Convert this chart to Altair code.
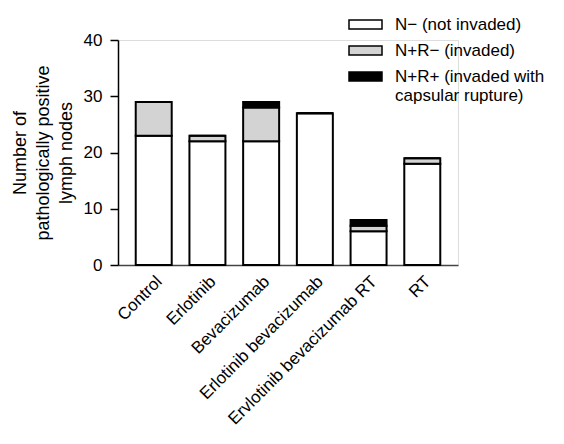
import altair as alt
import pandas as pd

groups = ["Control", "Erlotinib", "Bevacizumab", "Erlotinib bevacizumab",
          "Ervlotinib  bevacizumab RT", "RT"]
categories = ["N\u2212 (not invaded)", "N+R\u2212 (invaded)",
              "N+R+ (invaded with capsular rupture)"]
n_minus = [23, 22, 22, 27, 6, 18]
n_plus_r_minus = [6, 1, 6, 0, 1, 1]
n_plus_r_plus = [0, 0, 1, 0, 1, 0]
colors = ["#ffffff", "#d3d3d3", "#000000"]

rows = []
for i, g in enumerate(groups):
    for k, (cat, vals) in enumerate(zip(categories, [n_minus, n_plus_r_minus, n_plus_r_plus])):
        rows.append({"group": g, "category": cat, "value": vals[i], "order": k})
df = pd.DataFrame(rows)

FONT = "Liberation Sans"

chart = alt.Chart(df).mark_bar(stroke="black", strokeWidth=2).encode(
    x=alt.X("group:N", sort=groups, title=None,
            scale=alt.Scale(paddingInner=0.33, paddingOuter=0.33),
            axis=alt.Axis(labelAngle=-45, ticks=False, domainColor="#444",
                          domainWidth=1.5, labelFontSize=17, labelFont=FONT,
                          labelColor="black", labelPadding=8, labelLimit=500)),
    y=alt.Y("value:Q", stack="zero",
            scale=alt.Scale(domain=[0, 40], nice=False),
            axis=alt.Axis(values=[0, 10, 20, 30, 40], grid=False,
                          title=["Number of", "pathologically positive", "lymph nodes"],
                          titleFont=FONT, titleFontSize=18, titleFontWeight="normal",
                          titleColor="black", titlePadding=8, titleLineHeight=23,
                          labelFont=FONT, labelFontSize=17, labelColor="black",
                          domainColor="black", domainWidth=1.5, tickColor="black",
                          tickWidth=1.5, tickSize=8, labelPadding=8)),
    fill=alt.Fill("category:N", sort=categories,
                  scale=alt.Scale(domain=categories, range=colors),
                  legend=alt.Legend(
                      title=None, orient="none", legendX=230, legendY=-33,
                      symbolType="M-1,-0.27H1V0.27H-1Z", symbolSize=1089,
                      symbolStrokeColor="black", symbolStrokeWidth=1.5,
                      labelFont=FONT, labelFontSize=17, labelColor="black",
                      labelOffset=12, rowPadding=-8, labelLimit=300,
                      labelExpr="datum.label == 'N+R+ (invaded with capsular rupture)' ? ['N+R+ (invaded with', 'capsular rupture)'] : datum.label")),
    order=alt.Order("order:Q"),
).properties(
    width=340, height=225,
    autosize=alt.AutoSizeParams(type="none"),
    padding={"left": 110, "top": 32, "right": 98, "bottom": 170},
).configure_view(stroke=None).configure(font=FONT)

chart.save("out.html", embed_options={"renderer": "svg", "actions": False})
